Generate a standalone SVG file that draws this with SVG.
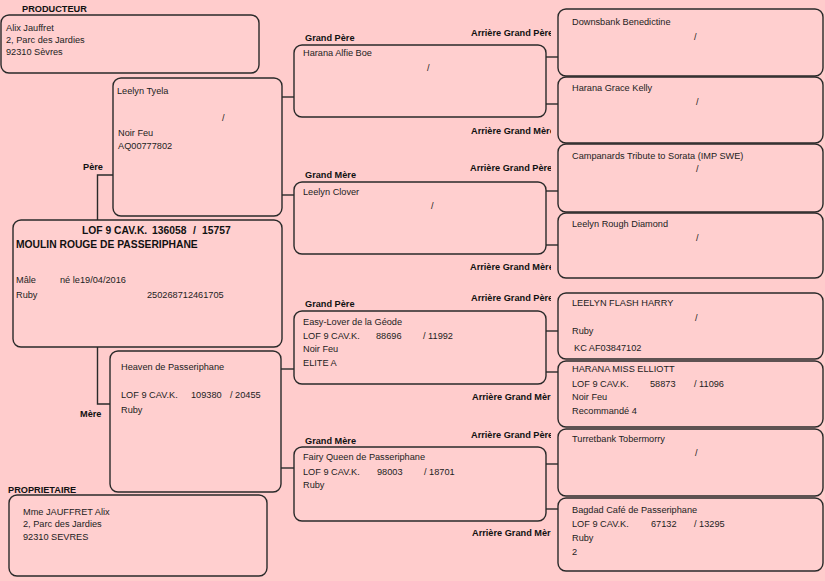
<svg xmlns="http://www.w3.org/2000/svg" width="825" height="581" viewBox="0 0 825 581">
<defs>
<style>
.box{fill:#FFCFCF;stroke:#2a2a2a;stroke-width:1.4}
.ln{fill:none;stroke:#2a2a2a;stroke-width:1.4}
text{font-family:"Liberation Sans",Arial,sans-serif}
.t{font-size:9.2px;fill:#222}
.b{font-size:9.2px;font-weight:bold;fill:#111}
.bm{font-size:10.3px;font-weight:bold;fill:#111}
</style>
<clipPath id="cl"><rect x="0" y="0" width="551" height="581"/></clipPath>
</defs>
<rect x="0" y="0" width="825" height="581" fill="#FFCCCC"/>

<g id="labels">
<text class="b" x="22" y="12">PRODUCTEUR</text>
<text class="b" x="8" y="493">PROPRIETAIRE</text>
<text class="b" x="83" y="170">Père</text>
<text class="b" x="80" y="417">Mère</text>
<text class="b" x="305" y="41">Grand Père</text>
<text class="b" x="305" y="178">Grand Mère</text>
<text class="b" x="305" y="307">Grand Père</text>
<text class="b" x="305" y="444">Grand Mère</text>
<g clip-path="url(#cl)">
<text class="b" x="471" y="36">Arrière Grand Père</text>
<text class="b" x="471" y="134">Arrière Grand Mère</text>
<text class="b" x="470" y="171">Arrière Grand Père</text>
<text class="b" x="470" y="270">Arrière Grand Mère</text>
<text class="b" x="471" y="301">Arrière Grand Père</text>
<text class="b" x="472" y="400">Arrière Grand Mère</text>
<text class="b" x="471" y="438">Arrière Grand Père</text>
<text class="b" x="472" y="536">Arrière Grand Mère</text>
</g>
</g>

<g id="connectors">
<path class="ln" d="M113,175 H97.5 V220"/>
<path class="ln" d="M97.5,347 V404 H110"/>
<path class="ln" d="M282,97 H294"/>
<path class="ln" d="M282,195 H294"/>
<path class="ln" d="M281,369 H294"/>
<path class="ln" d="M281,468 H294"/>
<path class="ln" d="M546,57 H558"/>
<path class="ln" d="M546,104 H558"/>
<path class="ln" d="M546,191 H558"/>
<path class="ln" d="M546,245 H558"/>
<path class="ln" d="M546,331 H558"/>
<path class="ln" d="M546,372 H558"/>
<path class="ln" d="M546,464 H558"/>
<path class="ln" d="M546,509 H558"/>
</g>

<g id="producteur">
<rect class="box" x="1" y="15" width="258" height="58" rx="8"/>
<text class="t" x="6" y="31">Alix Jauffret</text>
<text class="t" x="6" y="43">2, Parc des Jardies</text>
<text class="t" x="6" y="55">92310 Sèvres</text>
</g>

<g id="pere">
<rect class="box" x="113" y="78" width="169" height="138" rx="8"/>
<text class="t" x="117" y="94">Leelyn Tyela</text>
<text class="t" x="222" y="121">/</text>
<text class="t" x="118" y="136">Noir Feu</text>
<text class="t" x="118" y="149">AQ00777802</text>
</g>

<g id="sujet">
<rect class="box" x="13" y="220" width="269" height="127" rx="8"/>
<text class="bm" x="82" y="234">LOF 9 CAV.K.</text>
<text class="bm" x="152" y="234" font-size="10.8px">136058</text>
<text class="bm" x="193" y="234">/</text>
<text class="bm" x="202" y="234">15757</text>
<text class="bm" x="16" y="248">MOULIN ROUGE DE PASSERIPHANE</text>
<text class="t" x="16" y="283">Mâle</text>
<text class="t" x="60" y="283">né le19/04/2016</text>
<text class="t" x="16" y="298">Ruby</text>
<text class="t" x="147" y="298">250268712461705</text>
</g>

<g id="mere">
<rect class="box" x="110" y="351" width="171" height="141" rx="8"/>
<text class="t" x="121" y="370">Heaven de Passeriphane</text>
<text class="t" x="121" y="398">LOF 9 CAV.K.</text>
<text class="t" x="191" y="398">109380</text>
<text class="t" x="230" y="398">/ 20455</text>
<text class="t" x="121" y="413">Ruby</text>
</g>

<g id="proprietaire">
<rect class="box" x="9" y="495" width="258" height="81" rx="8"/>
<text class="t" x="23" y="515">Mme JAUFFRET Alix</text>
<text class="t" x="23" y="527">2, Parc des Jardies</text>
<text class="t" x="23" y="540">92310 SEVRES</text>
</g>

<g id="gp1">
<rect class="box" x="294" y="45" width="252" height="72" rx="8"/>
<text class="t" x="303" y="56">Harana Alfie Boe</text>
<text class="t" x="427" y="71">/</text>
</g>

<g id="gm1">
<rect class="box" x="294" y="182" width="252" height="72" rx="8"/>
<text class="t" x="303" y="195">Leelyn Clover</text>
<text class="t" x="431" y="209">/</text>
</g>

<g id="gp2">
<rect class="box" x="294" y="311" width="252" height="73" rx="8"/>
<text class="t" x="303" y="325">Easy-Lover de la Géode</text>
<text class="t" x="303" y="339">LOF 9 CAV.K.</text>
<text class="t" x="376" y="339">88696</text>
<text class="t" x="423" y="339">/ 11992</text>
<text class="t" x="303" y="352">Noir Feu</text>
<text class="t" x="303" y="366">ELITE A</text>
</g>

<g id="gm2">
<rect class="box" x="294" y="447" width="252" height="74" rx="8"/>
<text class="t" x="303" y="460">Fairy Queen de Passeriphane</text>
<text class="t" x="303" y="475">LOF 9 CAV.K.</text>
<text class="t" x="377" y="475">98003</text>
<text class="t" x="424" y="475">/ 18701</text>
<text class="t" x="303" y="488">Ruby</text>
</g>

<g id="agp1">
<rect class="box" x="558" y="9" width="265" height="67" rx="8"/>
<text class="t" x="572" y="25">Downsbank Benedictine</text>
<text class="t" x="694" y="40">/</text>
</g>

<g id="agm1">
<rect class="box" x="558" y="77" width="265" height="66" rx="8"/>
<text class="t" x="572" y="91">Harana Grace Kelly</text>
<text class="t" x="696" y="105">/</text>
</g>

<g id="agp2">
<rect class="box" x="558" y="144" width="265" height="68" rx="8"/>
<text class="t" x="572" y="159">Campanards Tribute to Sorata (IMP SWE)</text>
<text class="t" x="696" y="172">/</text>
</g>

<g id="agm2">
<rect class="box" x="558" y="213" width="265" height="65" rx="8"/>
<text class="t" x="572" y="227">Leelyn Rough Diamond</text>
<text class="t" x="696" y="241">/</text>
</g>

<g id="agp3">
<rect class="box" x="558" y="293" width="265" height="66" rx="8"/>
<text class="t" x="572" y="306">LEELYN FLASH HARRY</text>
<text class="t" x="695" y="321">/</text>
<text class="t" x="572" y="334">Ruby</text>
<text class="t" x="574" y="351">KC AF03847102</text>
</g>

<g id="agm3">
<rect class="box" x="558" y="361" width="265" height="66" rx="8"/>
<text class="t" x="572" y="372">HARANA MISS ELLIOTT</text>
<text class="t" x="572" y="387">LOF 9 CAV.K.</text>
<text class="t" x="650" y="387">58873</text>
<text class="t" x="694" y="387">/ 11096</text>
<text class="t" x="572" y="400">Noir Feu</text>
<text class="t" x="572" y="414">Recommandé 4</text>
</g>

<g id="agp4">
<rect class="box" x="558" y="429" width="265" height="67" rx="8"/>
<text class="t" x="572" y="442">Turretbank Tobermorry</text>
<text class="t" x="695" y="456">/</text>
</g>

<g id="agm4">
<rect class="box" x="558" y="498" width="265" height="73" rx="8"/>
<text class="t" x="572" y="513">Bagdad Café de Passeriphane</text>
<text class="t" x="572" y="527">LOF 9 CAV.K.</text>
<text class="t" x="651" y="527">67132</text>
<text class="t" x="694" y="527">/ 13295</text>
<text class="t" x="572" y="541">Ruby</text>
<text class="t" x="572" y="555">2</text>
</g>
</svg>
